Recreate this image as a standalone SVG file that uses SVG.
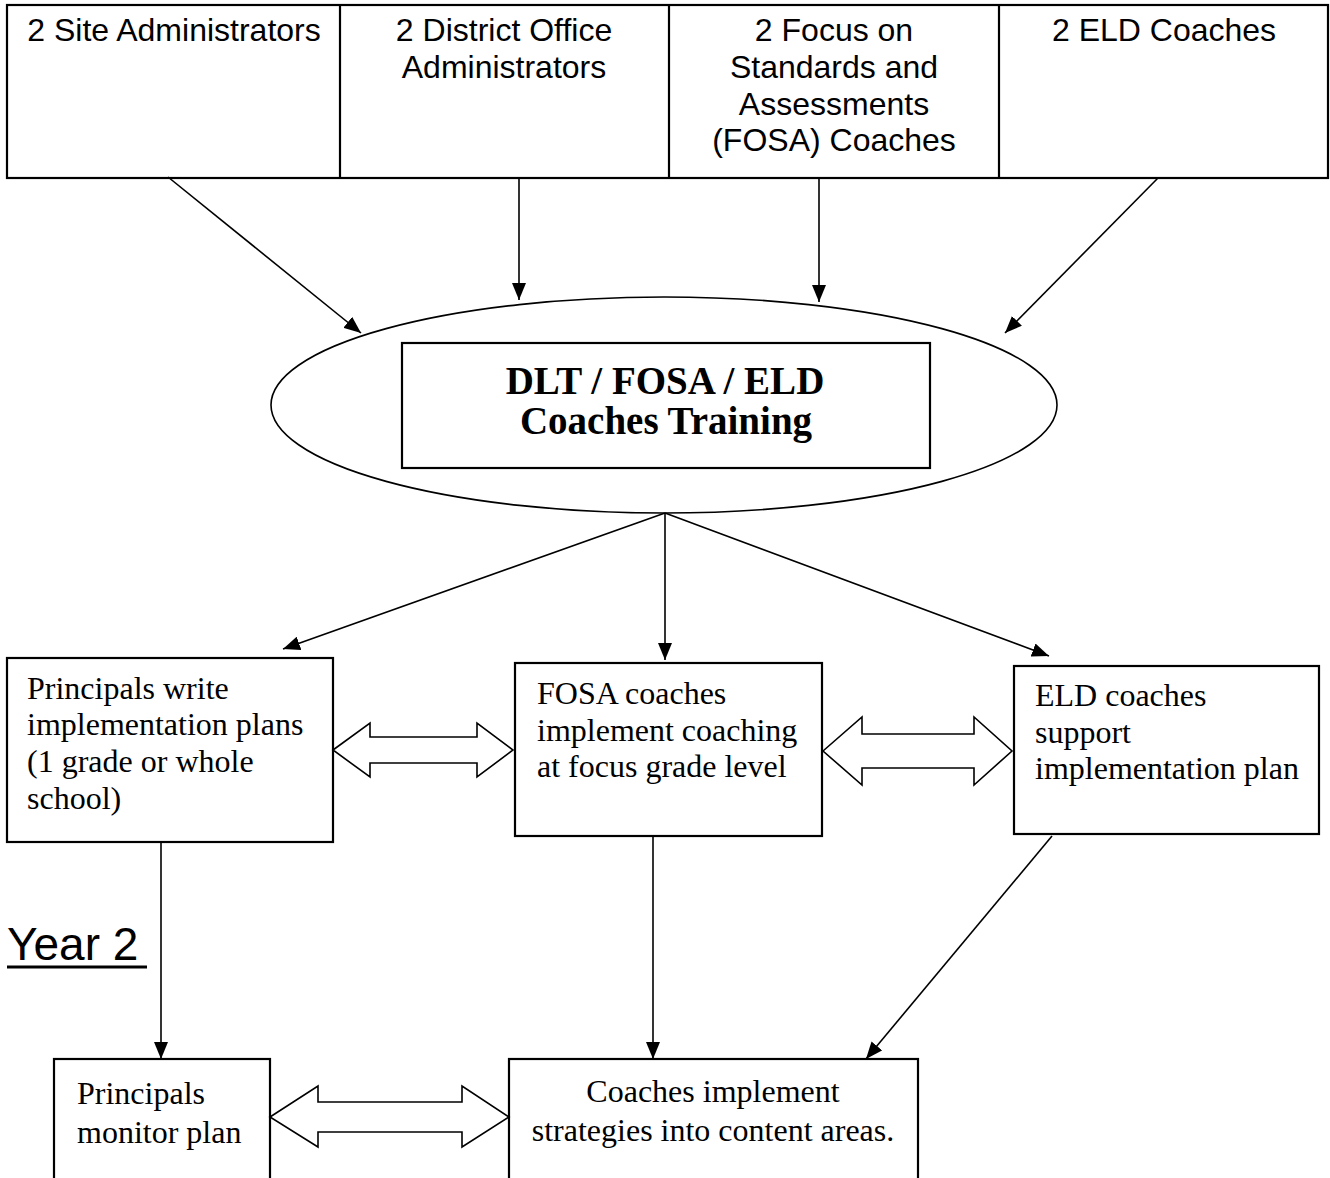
<svg xmlns="http://www.w3.org/2000/svg" width="1330" height="1178" viewBox="0 0 1330 1178">
<style>
.box{fill:#fff;stroke:#000;stroke-width:2.2}
.sans{font-family:"Liberation Sans",Arial,sans-serif;font-size:32px;fill:#000}
.serif{font-family:"Liberation Serif","Times New Roman",serif;font-size:32px;fill:#000}
.title{font-family:"Liberation Serif","Times New Roman",serif;font-size:39px;font-weight:bold;fill:#000}
.conn{stroke:#000;stroke-width:1.6;fill:none;marker-end:url(#ah)}
.dbl{fill:#fff;stroke:#000;stroke-width:1.6;stroke-linejoin:miter}
</style>
<defs>
<marker id="ah" markerUnits="userSpaceOnUse" markerWidth="18" markerHeight="14" refX="17" refY="7" orient="auto">
<path d="M0,0 L17,7 L0,14 z" fill="#000"/>
</marker>
</defs>
<rect width="1330" height="1178" fill="#fff"/>
<g id="top-row">
<rect class="box" x="7" y="5" width="1321" height="173"/>
<line x1="340" y1="5" x2="340" y2="178" stroke="#000" stroke-width="2.2"/>
<line x1="669" y1="5" x2="669" y2="178" stroke="#000" stroke-width="2.2"/>
<line x1="999" y1="5" x2="999" y2="178" stroke="#000" stroke-width="2.2"/>
</g>
<g id="site-admins">
<text class="sans" x="174" y="41" text-anchor="middle">2 Site Administrators</text>
</g>
<g id="district-admins">
<text class="sans" x="504" y="41" text-anchor="middle">2 District Office</text>
<text class="sans" x="504" y="78" text-anchor="middle">Administrators</text>
</g>
<g id="fosa-coaches">
<text class="sans" x="834" y="41" text-anchor="middle">2 Focus on</text>
<text class="sans" x="834" y="78" text-anchor="middle">Standards and</text>
<text class="sans" x="834" y="115" text-anchor="middle">Assessments</text>
<text class="sans" x="834" y="151" text-anchor="middle">(FOSA) Coaches</text>
</g>
<g id="eld-coaches">
<text class="sans" x="1164" y="41" text-anchor="middle">2 ELD Coaches</text>
</g>
<g id="training">
<ellipse cx="664" cy="405" rx="393" ry="108" fill="#fff" stroke="#000" stroke-width="1.6"/>
<rect class="box" x="402" y="343" width="528" height="125"/>
<text class="title" x="665" y="394" text-anchor="middle">DLT / FOSA / ELD</text>
<text class="title" x="666" y="434" text-anchor="middle">Coaches Training</text>
</g>
<g id="principals-write">
<rect class="box" x="7" y="658" width="326" height="184"/>
<text class="serif" x="27" y="699">Principals write</text>
<text class="serif" x="27" y="735">implementation plans</text>
<text class="serif" x="27" y="772">(1 grade or whole</text>
<text class="serif" x="27" y="809">school)</text>
</g>
<g id="fosa-implement">
<rect class="box" x="515" y="663" width="307" height="173"/>
<text class="serif" x="537" y="704">FOSA coaches</text>
<text class="serif" x="537" y="741">implement coaching</text>
<text class="serif" x="537" y="777">at focus grade level</text>
</g>
<g id="eld-support">
<rect class="box" x="1014" y="666" width="305" height="168"/>
<text class="serif" x="1035" y="706">ELD coaches</text>
<text class="serif" x="1035" y="743">support</text>
<text class="serif" x="1035" y="779">implementation plan</text>
</g>
<g id="year2">
<text x="7" y="960" font-family="'Liberation Sans',Arial,sans-serif" font-size="46" fill="#000">Year 2</text>
<line x1="7" y1="967" x2="147" y2="967" stroke="#000" stroke-width="3"/>
</g>
<g id="principals-monitor">
<rect class="box" x="54" y="1059" width="216" height="200"/>
<text class="serif" x="77" y="1104">Principals</text>
<text class="serif" x="77" y="1143">monitor plan</text>
</g>
<g id="coaches-implement">
<rect class="box" x="509" y="1059" width="409" height="200"/>
<text class="serif" x="713" y="1102" text-anchor="middle">Coaches implement</text>
<text class="serif" x="713" y="1141" text-anchor="middle">strategies into content areas.</text>
</g>
<g id="connectors">
<line class="conn" x1="168" y1="177" x2="361" y2="333"/>
<line class="conn" x1="519" y1="178" x2="519" y2="300"/>
<line class="conn" x1="819" y1="178" x2="819" y2="302"/>
<line class="conn" x1="1158" y1="178" x2="1005" y2="333"/>
<line class="conn" x1="665" y1="513" x2="283" y2="649"/>
<line class="conn" x1="665" y1="513" x2="665" y2="660"/>
<line class="conn" x1="665" y1="513" x2="1049" y2="656"/>
<line class="conn" x1="161" y1="842" x2="161" y2="1059"/>
<line class="conn" x1="653" y1="836" x2="653" y2="1059"/>
<line class="conn" x1="1052" y1="836" x2="866" y2="1059"/>
<polygon class="dbl" points="333,750 370,723 370,737 477,737 477,723 513,750 477,777 477,763 370,763 370,777"/>
<polygon class="dbl" points="823,751 862,717 862,734 974,734 974,717 1012,751 974,785 974,768 862,768 862,785"/>
<polygon class="dbl" points="270,1117 318,1086 318,1102 462,1102 462,1086 509,1117 462,1147 462,1132 318,1132 318,1147"/>
</g>
</svg>
